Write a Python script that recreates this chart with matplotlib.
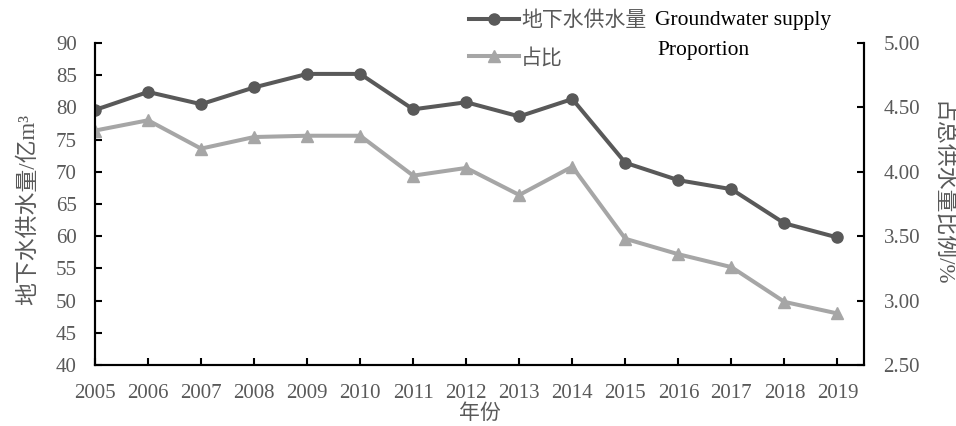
import matplotlib
matplotlib.use('Agg')
import matplotlib.pyplot as plt

# fonts: serif for numbers, CJK fallback for chinese
plt.rcParams['font.family'] = ['Liberation Serif', 'Noto Sans CJK SC']

# data
years = [2005, 2006, 2007, 2008, 2009, 2010, 2011, 2012, 2013, 2014, 2015, 2016, 2017, 2018, 2019]
supply = [79.6, 82.4, 80.5, 83.1, 85.2, 85.2, 79.7, 80.8, 78.6, 81.3, 71.4, 68.7, 67.3, 62.0, 59.8]
proportion = [4.32, 4.40, 4.18, 4.27, 4.28, 4.28, 3.97, 4.03, 3.82, 4.04, 3.48, 3.36, 3.26, 2.99, 2.90]

left_ticks = [40, 45, 50, 55, 60, 65, 70, 75, 80, 85, 90]
right_ticks = [2.50, 3.00, 3.50, 4.00, 4.50, 5.00]

dark = '#595959'
light = '#a6a6a6'
txt = '#595959'

fig = plt.figure(figsize=(9.56, 4.26), dpi=100)
ax = fig.add_axes([95/956, 1-365/426, (864-95)/956, (365-43)/426])
ax2 = ax.twinx()

l1, = ax.plot(years, supply, color=dark, lw=2.9, marker='o', ms=8, zorder=3,
              label='地下水供水量')
l2, = ax2.plot(years, proportion, color=light, lw=2.9, marker='^', ms=9, zorder=2,
               label='占比')

ax.set_xlim(2005, 2019.5)
ax.set_ylim(40, 90)
ax2.set_ylim(2.5, 5.0)

ax.set_xticks(years)
ax.set_xticklabels([str(y) for y in years])
ax.set_yticks(left_ticks)
ax2.set_yticks(right_ticks)
ax2.set_yticklabels([f'{v:.2f}' for v in right_ticks])

for a in (ax, ax2):
    a.spines['top'].set_visible(False)
    for s in a.spines.values():
        s.set_linewidth(1.5)
    a.tick_params(direction='in', length=5, width=1.5, labelsize=15, labelcolor=txt)

ax.tick_params(axis='x', pad=14)
ax.tick_params(axis='y', pad=13)
ax2.tick_params(axis='y', pad=14)

# axis titles
ax.set_xlabel('年份', fontsize=15, color=txt, va='center')
ax.xaxis.set_label_coords(0.5, -(414-365)/322)
ax.set_ylabel('地下水供水量/亿m³', fontsize=16.5, color=txt, va='center')
ax.yaxis.set_label_coords(-(95-28)/769, 0.484)
ax2.set_ylabel('占总供水量比例/%', fontsize=16.5, color=txt, rotation=270, va='center')
ax2.yaxis.set_label_coords(1+(942-864)/769, 0.533)

# legend on top, no frame
fig.legend(handles=[l1, l2], loc='upper left', bbox_to_anchor=(469/956, 0.979),
           frameon=False, handlelength=2.4, handletextpad=0.1,
           labelspacing=0.75, borderpad=0, borderaxespad=0, labelcolor=txt,
           prop={'family': ['Noto Sans CJK SC'], 'size': 15})

fig.text(655/956, 1-20/426, 'Groundwater supply', fontsize=15.5, color='black', va='center')
fig.text(657/956, 1-50/426, 'Proportion', fontsize=15.5, color='black', va='center')

fig.savefig('out.png', dpi=100)
